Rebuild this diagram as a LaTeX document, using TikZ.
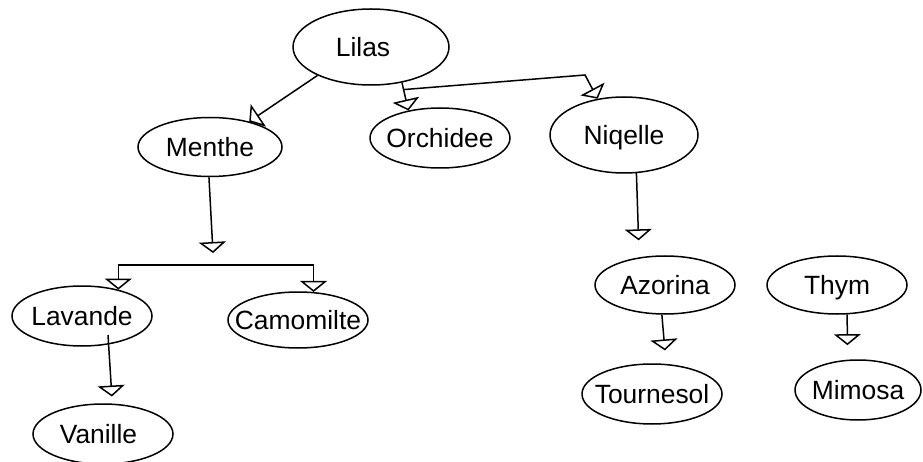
\documentclass[tikz,border=0pt]{standalone}
\usepackage{fontspec}
\setmainfont{Liberation Sans}
\usetikzlibrary{shapes.geometric,arrows.meta,calc}
\tikzset{
  flower/.style={ellipse, draw, line width=1.5pt, inner sep=0pt,
    text height=19pt, text depth=0pt, font=\fontsize{26.4}{30}\selectfont},
  arr/.style={line width=1.5pt, -{Triangle[open, length=11pt, width=27pt, line width=1.5pt]}}
}
\newcommand\fl[1]{\makebox[0pt]{#1}}
\begin{document}
\begin{tikzpicture}[x=1pt,y=-1pt]
\useasboundingbox (0,0) rectangle (923,462);
\node[flower, minimum width=156pt, minimum height=76pt] (lilas) at (371,47) {\fl{\hspace*{-16pt}Lilas}};
\node[flower, minimum width=144pt, minimum height=59pt] (menthe) at (210,147) {\fl{Menthe}};
\node[flower, minimum width=140pt, minimum height=60pt] (orch) at (440,138) {\fl{Orchidee}};
\node[flower, minimum width=148pt, minimum height=76pt] (niq) at (624,135) {\fl{Niqelle}};
\node[flower, minimum width=140pt, minimum height=60pt] (lav) at (82,316) {\fl{Lavande}};
\node[flower, minimum width=140pt, minimum height=56pt] (cam) at (298,320) {\fl{Camomilte}};
\node[flower, minimum width=140pt, minimum height=60pt] (van) at (103,434) {\fl{\hspace*{-9pt}Vanille}};
\node[flower, minimum width=140pt, minimum height=58pt] (azo) at (665,285) {\fl{Azorina}};
\node[flower, minimum width=140pt, minimum height=58pt] (thym) at (837,285) {\fl{Thym}};
\node[flower, minimum width=140pt, minimum height=60pt] (tour) at (652,394) {\fl{Tournesol}};
\node[flower, minimum width=126pt, minimum height=60pt] (mim) at (858,390) {\fl{Mimosa}};

\coordinate (split) at ($(lilas.311)!0.25!(orch.139)$);
\coordinate (bend) at (585,75);
\coordinate (mtip) at (213,253);
\coordinate (brk) at (213,265);
\coordinate (lavout) at ($(lav.center)+(26,19)$);

\draw[arr] (lilas.208) -- (menthe.33);
\draw[arr] (lilas.311) -- (orch.139);
\draw[arr] (split) -- (bend) -- (niq.126);
\draw[arr] (menthe.268) -- (mtip);
\draw[arr] (brk) -| (lav.36);
\draw[arr] (brk) -| (cam.61);
\draw[arr, shorten >=7pt] (lavout) -- (van.73);
\draw[arr, shorten >=17pt] (niq.288) -- (azo.133);
\draw[arr, shorten >=13.5pt] (azo.264) -- (tour.65);
\draw[arr, shorten >=14.5pt] (thym.289) -- (mim.109);
\end{tikzpicture}
\end{document}
